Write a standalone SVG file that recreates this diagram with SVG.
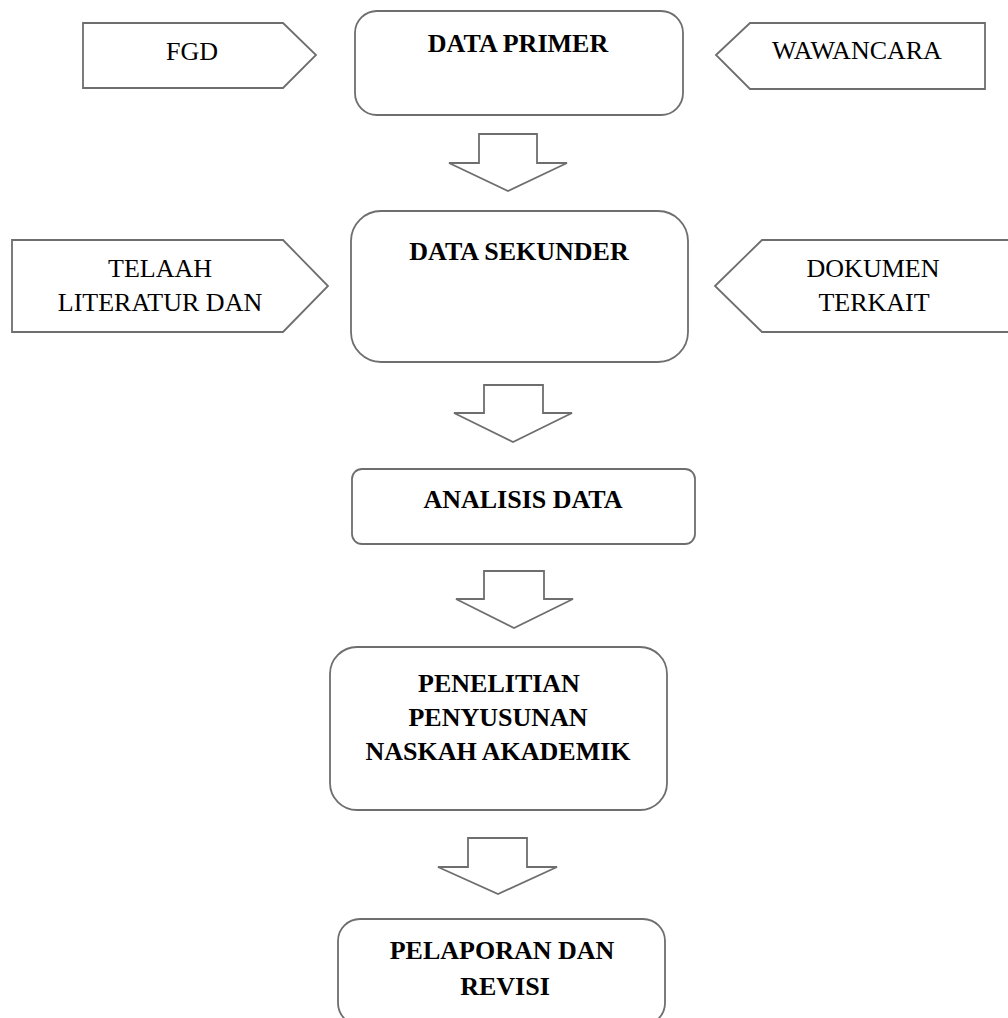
<svg xmlns="http://www.w3.org/2000/svg" width="1008" height="1018" viewBox="0 0 1008 1018">
<style>
.shape{fill:#ffffff;stroke:#6e6e6e;stroke-width:1.8;stroke-linejoin:miter}
.t{font-family:"Liberation Serif","Times New Roman",serif;font-size:26px;fill:#000;text-anchor:middle}
.b{font-weight:bold}
</style>
<rect width="1008" height="1018" fill="#ffffff"/>
<g id="connectors">
<polygon class="shape" points="479,134 537,134 537,163 567,163 508,191 449,163 479,163"/>
<polygon class="shape" points="484,385 543,385 543,413 572,413 513,442 454,413 484,413"/>
<polygon class="shape" points="484,571 544,571 544,599 573,599 514,628 456,599 484,599"/>
<polygon class="shape" points="468,838 527,838 527,867 557,867 498,894 438,867 468,867"/>
</g>
<g id="fgd">
<polygon class="shape" points="83,23 283,23 316,55 283,88 83,88"/>
<text class="t" x="192" y="60">FGD</text>
</g>
<g id="data-primer">
<rect class="shape" x="355" y="11" width="328" height="104" rx="22" ry="22"/>
<text class="t b" x="518" y="52">DATA PRIMER</text>
</g>
<g id="wawancara">
<polygon class="shape" points="716,55 750,23 985,23 985,89 750,89"/>
<text class="t" x="857" y="59">WAWANCARA</text>
</g>
<g id="telaah">
<polygon class="shape" points="12,240 283,240 328,286 283,332 12,332"/>
<text class="t" x="160" y="277">TELAAH</text>
<text class="t" x="160" y="311">LITERATUR DAN</text>
</g>
<g id="data-sekunder">
<rect class="shape" x="351" y="211" width="337" height="151" rx="30" ry="30"/>
<text class="t b" x="519" y="260">DATA SEKUNDER</text>
</g>
<g id="dokumen">
<polygon class="shape" points="715,286 762,240 1014,240 1014,332 762,332"/>
<text class="t" x="873" y="277">DOKUMEN</text>
<text class="t" x="874" y="311">TERKAIT</text>
</g>
<g id="analisis">
<rect class="shape" x="352" y="469" width="343" height="75" rx="10" ry="10"/>
<text class="t b" x="523" y="508">ANALISIS DATA</text>
</g>
<g id="penelitian">
<rect class="shape" x="330" y="647" width="337" height="163" rx="27" ry="27"/>
<text class="t b" x="499" y="692">PENELITIAN</text>
<text class="t b" x="498" y="726">PENYUSUNAN</text>
<text class="t b" x="498" y="760">NASKAH AKADEMIK</text>
</g>
<g id="pelaporan">
<rect class="shape" x="338" y="919" width="327" height="106" rx="22" ry="22"/>
<text class="t b" x="502" y="959">PELAPORAN DAN</text>
<text class="t b" x="505" y="995">REVISI</text>
</g>
</svg>
